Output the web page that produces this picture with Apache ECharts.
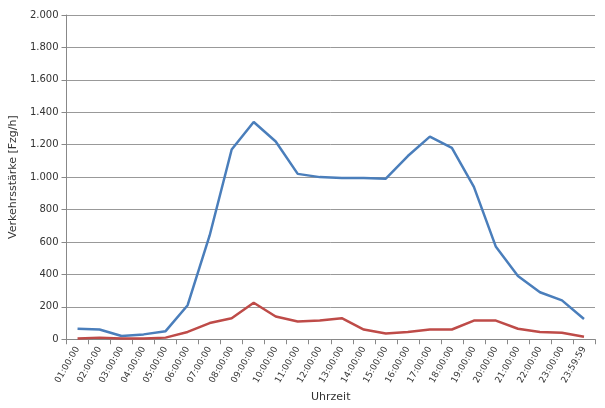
<!DOCTYPE html>
<html><head><meta charset="utf-8">
<script src="https://cdn.jsdelivr.net/npm/echarts@6/dist/echarts.min.js"></script>
<style>html,body{margin:0;padding:0;background:#fff}#c{width:605px;height:408px}</style>
</head><body><div id="c"></div>
<script>
const categories=['01:00:00','02:00:00','03:00:00','04:00:00','05:00:00','06:00:00','07:00:00','08:00:00','09:00:00','10:00:00','11:00:00','12:00:00','13:00:00','14:00:00','15:00:00','16:00:00','17:00:00','18:00:00','19:00:00','20:00:00','21:00:00','22:00:00','23:00:00','23:59:59'];
const blue=[65,60,20,30,50,210,640,1170,1340,1220,1020,1000,995,995,990,1130,1250,1180,940,570,390,290,240,125];
const red=[5,10,5,5,10,45,100,130,225,140,110,115,130,60,35,45,60,60,115,115,65,45,40,15];
const chart=echarts.init(document.getElementById('c'));
chart.setOption({
 animation:false,
 grid:{left:62,right:10,top:15,bottom:67},
 xAxis:{type:'category',data:categories,boundaryGap:true,name:'Uhrzeit',nameLocation:'middle',nameGap:52,
  nameTextStyle:{fontSize:11,color:'#333',fontFamily:'DejaVu Sans'},
  axisLine:{lineStyle:{color:'#888'}},axisTick:{show:true,lineStyle:{color:'#888'}},
  axisLabel:{rotate:60,fontSize:9,color:'#333',interval:0,fontFamily:'DejaVu Sans'}},
 yAxis:{type:'value',min:0,max:2000,interval:200,name:'Verkehrsstärke [Fzg/h]',nameLocation:'middle',nameGap:42,
  nameTextStyle:{fontSize:11,color:'#333',fontFamily:'DejaVu Sans'},
  axisLine:{show:true,lineStyle:{color:'#888'}},axisTick:{show:true,lineStyle:{color:'#888'}},
  axisLabel:{fontSize:10,color:'#333',fontFamily:'DejaVu Sans',formatter:v=>v>=1000?Math.floor(v/1000)+'.'+String(v%1000).padStart(3,'0'):String(v)},
  splitLine:{lineStyle:{color:'#999'}}},
 series:[
  {type:'line',data:blue,symbol:'none',lineStyle:{color:'#4a7ebb',width:2.5}},
  {type:'line',data:red,symbol:'none',lineStyle:{color:'#be4b48',width:2.5}}
 ]
});
</script></body></html>
